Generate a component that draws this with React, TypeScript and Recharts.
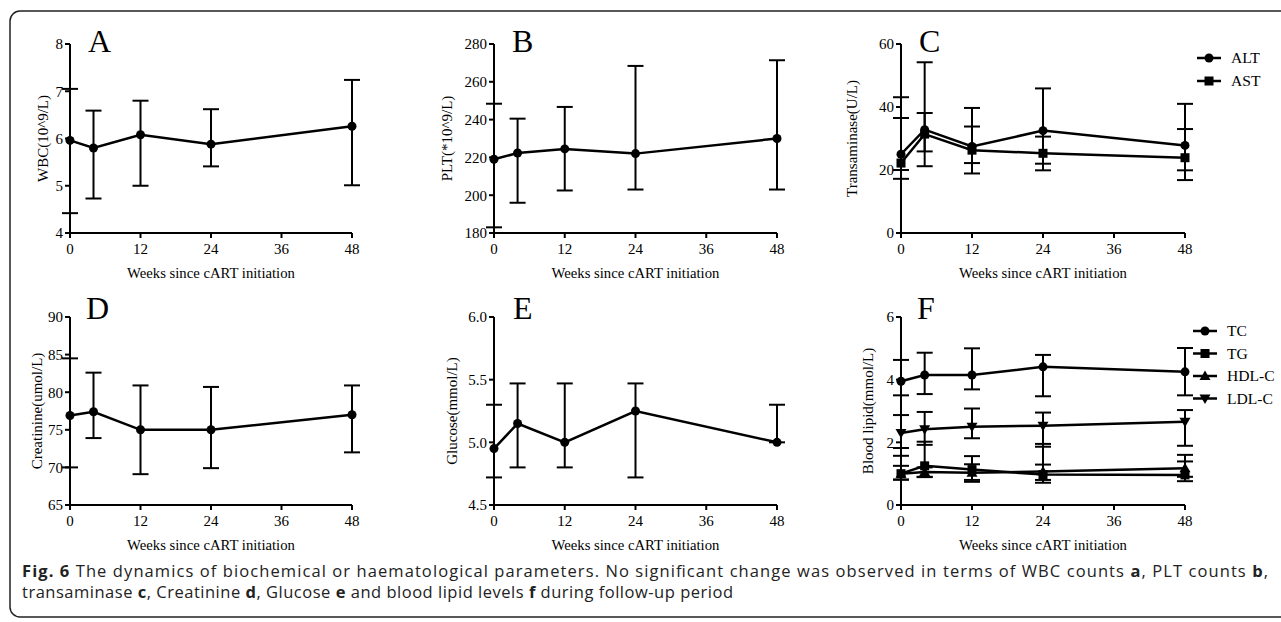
import React from 'react';
import { LineChart, Line, XAxis, YAxis, ErrorBar } from 'recharts';

// ---------- data ----------
const weeks = [0, 4, 12, 24, 48];
const xTicks = [0, 12, 24, 36, 48];

// A: WBC
const wbcMean = [5.96, 5.8, 6.08, 5.88, 6.26];
const wbcLow = [4.42, 4.73, 5.0, 5.41, 5.01];
const wbcHigh = [7.05, 6.59, 6.8, 6.62, 7.24];
const wbcTicks = [4, 5, 6, 7, 8];

// B: PLT
const pltMean = [219, 222.3, 224.5, 222, 230];
const pltLow = [183, 196, 202.5, 203, 203];
const pltHigh = [248.4, 240.5, 246.7, 268.4, 271.4];
const pltTicks = [180, 200, 220, 240, 260, 280];

// C: Transaminase
const altMean = [25, 32.8, 27.5, 32.5, 27.8];
const altLow = [17.2, 21.2, 18.9, 19.9, 16.8];
const altHigh = [43.1, 54.2, 39.7, 45.9, 41];
const astMean = [22.2, 31.4, 26.3, 25.3, 23.9];
const astLow = [20, 25.9, 22.2, 22.0, 19.9];
const astHigh = [36.5, 38.1, 33.8, 30.6, 33];
const transTicks = [0, 20, 40, 60];

// D: Creatinine
const creMean = [76.9, 77.4, 75, 75, 77];
const creLow = [70, 73.9, 69.1, 69.9, 72];
const creHigh = [84.5, 82.6, 80.9, 80.7, 80.9];
const creTicks = [65, 70, 75, 80, 85, 90];

// E: Glucose
const gluMean = [4.95, 5.15, 5.0, 5.25, 5.0];
const gluLow = [4.72, 4.8, 4.8, 4.72, 5.0];
const gluHigh = [5.3, 5.47, 5.47, 5.47, 5.3];
const gluTicks = [4.5, 5.0, 5.5, 6.0];

// F: Blood lipid
const tcMean = [3.95, 4.15, 4.15, 4.41, 4.25];
const tcLow = [3.5, 3.54, 3.69, 3.47, 3.5];
const tcHigh = [4.63, 4.86, 5.0, 4.79, 5.01];
const tgMean = [1.0, 1.25, 1.13, 0.97, 0.96];
const tgLow = [0.81, 0.89, 0.74, 0.71, 0.76];
const tgHigh = [1.57, 2.02, 1.56, 1.95, 1.6];
const hdlMean = [1.0, 1.05, 1.03, 1.07, 1.17];
const hdlLow = [0.81, 0.9, 0.8, 0.8, 0.9];
const hdlHigh = [1.25, 1.2, 1.3, 1.29, 1.39];
const ldlMean = [2.3, 2.42, 2.5, 2.53, 2.66];
const ldlLow = [1.82, 1.92, 2.13, 1.86, 1.89];
const ldlHigh = [2.87, 2.97, 3.08, 2.95, 3.03];
const lipidTicks = [0, 2, 4, 6];

const xLabel = 'Weeks since cART initiation';

// ---------- drawing ----------
const SERIF = '"Liberation Serif", "Times New Roman", serif';
const SANS = '"Open Sans", "Noto Sans", sans-serif';

type Shape = 'circle' | 'square' | 'triangle' | 'triangleDown';

interface Series {
  key: string;
  mean: number[];
  low: number[];
  high: number[];
  shape: Shape;
}

function Marker({ cx, cy, shape }: { cx: number; cy: number; shape: Shape }) {
  if (shape === 'circle') return <circle cx={cx} cy={cy} r={4.5} fill="#000" />;
  if (shape === 'square') return <rect x={cx - 4.5} y={cy - 4.5} width={9} height={9} fill="#000" />;
  if (shape === 'triangle')
    return <polygon points={`${cx},${cy - 5.5} ${cx - 5.5},${cy + 4} ${cx + 5.5},${cy + 4}`} fill="#000" />;
  return <polygon points={`${cx},${cy + 5.5} ${cx - 5.5},${cy - 4} ${cx + 5.5},${cy - 4}`} fill="#000" />;
}

function makeDot(shape: Shape) {
  return (props: any) => {
    const { cx, cy, index } = props;
    if (cx == null || cy == null) return <g key={`e-${index}`} />;
    return (
      <g key={`${shape}-${index}`}>
        <Marker cx={cx} cy={cy} shape={shape} />
      </g>
    );
  };
}

interface PanelProps {
  plot: { x: number; y: number; w: number; h: number };
  ticks: number[];
  yLabel: string;
  labelX: number;
  series: Series[];
  fmt?: (v: number) => string;
}

function Panel({ plot, ticks, yLabel, labelX, series, fmt }: PanelProps) {
  const data = weeks.map((w, i) => {
    const row: any = { week: w };
    series.forEach((s) => {
      row[s.key] = s.mean[i];
      row[s.key + 'Err'] = [s.mean[i] - s.low[i], s.high[i] - s.mean[i]];
    });
    return row;
  });
  const left = plot.x - 70;
  const top = plot.y - 20;
  const tickStyle = { fontSize: 15, fontFamily: SERIF, fill: '#000' };
  return (
    <div className="chart" style={{ position: 'absolute', left, top }}>
      <LineChart
        width={70 + plot.w + 10}
        height={20 + plot.h + 60}
        data={data}
        margin={{ top: 20, right: 10, left: 0, bottom: 0 }}
      >
        <XAxis
          dataKey="week"
          type="number"
          domain={[0, 48]}
          ticks={xTicks}
          interval={0}
          height={60}
          tick={tickStyle}
          tickSize={5}
          tickMargin={5}
          axisLine={{ stroke: '#000', strokeWidth: 2 }}
          tickLine={{ stroke: '#000', strokeWidth: 2 }}
          label={{
            value: xLabel,
            position: 'insideTop',
            offset: 35,
            style: { fontSize: 14.7, fontFamily: SERIF, fill: '#000' },
          }}
        />
        <YAxis
          type="number"
          domain={[ticks[0], ticks[ticks.length - 1]]}
          ticks={ticks}
          interval={0}
          width={70}
          tick={tickStyle}
          tickSize={5}
          tickMargin={2}
          tickFormatter={fmt}
          axisLine={{ stroke: '#000', strokeWidth: 2 }}
          tickLine={{ stroke: '#000', strokeWidth: 2 }}
          label={{
            value: yLabel,
            angle: -90,
            position: 'insideLeft',
            offset: labelX - left,
            style: { fontSize: 15, fontFamily: SERIF, fill: '#000', textAnchor: 'middle' },
          }}
        />
        {series.map((s) => (
          <Line
            key={s.key}
            type="linear"
            dataKey={s.key}
            stroke="#000"
            strokeWidth={2.5}
            dot={makeDot(s.shape)}
            activeDot={false}
            isAnimationActive={false}
          >
            <ErrorBar dataKey={s.key + 'Err'} width={8} strokeWidth={2} stroke="#000" direction="y" />
          </Line>
        ))}
      </LineChart>
    </div>
  );
}

function LegendItem({ x, y, shape, text }: { x: number; y: number; shape: Shape; text: string }) {
  return (
    <g>
      <line x1={x} y1={y} x2={x + 24} y2={y} stroke="#000" strokeWidth={2.5} />
      <Marker cx={x + 12} cy={y} shape={shape} />
      <text x={x + 34} y={y} dy="0.35em" fontSize={15.6} fontFamily={SERIF} fill="#000">
        {text}
      </text>
    </g>
  );
}

const topRow = { y: 44, h: 189 };
const botRow = { y: 317, h: 188 };

export default function App() {
  return (
    <div style={{ position: 'absolute', left: 0, top: 0, width: 1281, height: 622, background: '#fff', overflow: 'hidden' }}>
      <style>{`.chart text { font-family: "Liberation Serif", "Times New Roman", serif !important; }`}</style>
      <Panel
        plot={{ x: 70, y: topRow.y, w: 282, h: topRow.h }}
        ticks={wbcTicks}
        yLabel="WBC(10^9/L)"
        labelX={43}
        series={[{ key: 'wbc', mean: wbcMean, low: wbcLow, high: wbcHigh, shape: 'circle' }]}
      />
      <Panel
        plot={{ x: 494, y: topRow.y, w: 283, h: topRow.h }}
        ticks={pltTicks}
        yLabel="PLT(*10^9/L)"
        labelX={447}
        series={[{ key: 'plt', mean: pltMean, low: pltLow, high: pltHigh, shape: 'circle' }]}
      />
      <Panel
        plot={{ x: 901, y: topRow.y, w: 284, h: topRow.h }}
        ticks={transTicks}
        yLabel="Transaminase(U/L)"
        labelX={852}
        series={[
          { key: 'alt', mean: altMean, low: altLow, high: altHigh, shape: 'circle' },
          { key: 'ast', mean: astMean, low: astLow, high: astHigh, shape: 'square' },
        ]}
      />
      <Panel
        plot={{ x: 70, y: botRow.y, w: 282, h: botRow.h }}
        ticks={creTicks}
        yLabel="Creatinine(umol/L)"
        labelX={37}
        series={[{ key: 'cre', mean: creMean, low: creLow, high: creHigh, shape: 'circle' }]}
      />
      <Panel
        plot={{ x: 494, y: botRow.y, w: 283, h: botRow.h }}
        ticks={gluTicks}
        yLabel="Glucose(mmol/L)"
        labelX={452}
        fmt={(v) => v.toFixed(1)}
        series={[{ key: 'glu', mean: gluMean, low: gluLow, high: gluHigh, shape: 'circle' }]}
      />
      <Panel
        plot={{ x: 901, y: botRow.y, w: 284, h: botRow.h }}
        ticks={lipidTicks}
        yLabel="Blood lipid(mmol/L)"
        labelX={868}
        series={[
          { key: 'tc', mean: tcMean, low: tcLow, high: tcHigh, shape: 'circle' },
          { key: 'tg', mean: tgMean, low: tgLow, high: tgHigh, shape: 'square' },
          { key: 'hdl', mean: hdlMean, low: hdlLow, high: hdlHigh, shape: 'triangle' },
          { key: 'ldl', mean: ldlMean, low: ldlLow, high: ldlHigh, shape: 'triangleDown' },
        ]}
      />
      <svg
        width={1281}
        height={622}
        style={{ position: 'absolute', left: 0, top: 0, pointerEvents: 'none' }}
      >
        <rect x={10} y={11} width={1300} height={606} rx={10} ry={10} fill="none" stroke="#222" strokeWidth={1.5} />
        <g fontFamily={SERIF} fontSize={32} fill="#000">
          <text x={88} y={52}>A</text>
          <text x={512} y={52}>B</text>
          <text x={919} y={52}>C</text>
          <text x={86} y={319}>D</text>
          <text x={513} y={319}>E</text>
          <text x={917} y={319}>F</text>
        </g>
        <LegendItem x={1197} y={58} shape="circle" text="ALT" />
        <LegendItem x={1197} y={81} shape="square" text="AST" />
        <LegendItem x={1193} y={331} shape="circle" text="TC" />
        <LegendItem x={1193} y={353.5} shape="square" text="TG" />
        <LegendItem x={1193} y={376} shape="triangle" text="HDL-C" />
        <LegendItem x={1193} y={398.5} shape="triangleDown" text="LDL-C" />
        <g fontFamily={SANS} fontSize={16.5} fill="#222">
          <text x={22} y={577} textLength={1246} lengthAdjust="spacing">
            <tspan fontWeight="bold">Fig. 6</tspan> The dynamics of biochemical or haematological parameters. No significant change was observed in terms of WBC counts <tspan fontWeight="bold">a</tspan>, PLT counts <tspan fontWeight="bold">b</tspan>,
          </text>
          <text x={22} y={598} textLength={711} lengthAdjust="spacing">
            transaminase <tspan fontWeight="bold">c</tspan>, Creatinine <tspan fontWeight="bold">d</tspan>, Glucose <tspan fontWeight="bold">e</tspan> and blood lipid levels <tspan fontWeight="bold">f</tspan> during follow-up period
          </text>
        </g>
      </svg>
    </div>
  );
}
